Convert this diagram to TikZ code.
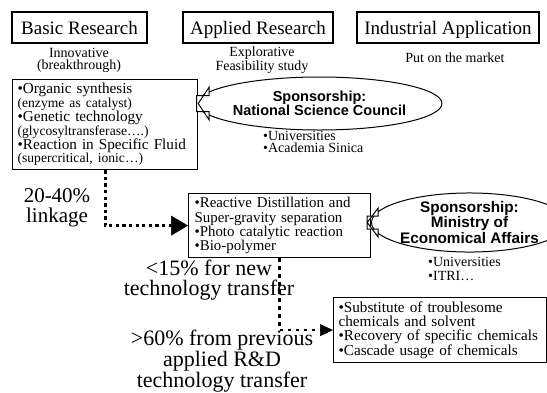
\documentclass[tikz,border=0pt]{standalone}
\usepackage{fontspec}
\setmainfont{Liberation Serif}
\newfontfamily\hsans{Liberation Sans}
\usetikzlibrary{shapes.geometric,arrows.meta,calc}
\newcommand\fsz[2]{\fontsize{#1}{#2}\selectfont}
\begin{document}
\begin{tikzpicture}[x=1pt,y=-1pt,
  stage/.style={draw,line width=1.2pt,minimum height=31pt,inner sep=0pt,
    text height=14pt,text depth=1pt,font=\fsz{19}{22}},
  topic/.style={draw,line width=1.2pt,anchor=north west,align=left,inner ysep=0pt},
  sponsor/.style={draw,ellipse,line width=1pt,inner sep=0pt,align=center},
  note/.style={align=center,inner sep=0pt},
  members/.style={anchor=west,align=left,inner sep=0pt},
  block/.style={draw,line width=1pt,fill=white,line join=miter},
  flowA/.style={line width=3pt,dash pattern=on 3.3pt off 3.3pt,
    -{Triangle[length=17pt 0 0,width=20pt 0 0,line width=0.5pt]}},
  flowB/.style={line width=2.6pt,dash pattern=on 3.5pt off 4.5pt,
    -{Triangle[length=13pt 0 0,width=12pt 0 0,line width=0.5pt]}},
]
\useasboundingbox (0,0) rectangle (547,392);

% three stages of research
\node[stage,minimum width=135pt] (basic) at (79.5,27.5) {Basic Research};
\node[stage,minimum width=150pt] (applied) at (258,27.5) {Applied Research};
\node[stage,minimum width=182pt] (industry) at (448,27.5) {Industrial Application};

\node[note,font=\fsz{14}{12.5}] (basicnote) at (79,60.5) {Innovative\\(breakthrough)};
\node[note,font=\fsz{14}{12.5}] (appliednote) at (262,60) {Explorative\\Feasibility study};
\node[note,font=\fsz{14}{12.5}] (industrynote) at (455,58) {Put on the market};

% basic research topics and their sponsor
\node[topic,minimum width=185pt,minimum height=90pt,inner xsep=5pt,text width=175pt,
  font=\fsz{15.2}{13.8}] (basicbox) at (12,79)
  {\mbox{•Organic synthesis}\\\mbox{\fsz{13.6}{13.8}(enzyme as catalyst)}\\
   \mbox{•Genetic technology}\\\mbox{\fsz{13.6}{13.8}(glycosyltransferase….)}\\
   \mbox{•Reaction in Specific Fluid}\\\mbox{\fsz{13.6}{13.8}(supercritical, ionic…)}};

\node[sponsor,minimum width=195pt,minimum height=53pt,
  font=\hsans\bfseries\fsz{14.5}{13.5}] (nsc) at (319.5,103.5)
  {Sponsorship:\\National Science Council};
\node[members,font=\fsz{14}{12.5}] (nscmembers) at (263,142) {•Universities\\•Academia Sinica};

\coordinate (nsctip) at (basicbox.east |- nsc.west);
\draw[block] (nsctip) -- ++(11,-16.5) -- ++(0,8.5) -- ($(nsc.west)+(0,-8)$)
  -- ($(nsc.west)+(0,8)$) -- ($(nsctip)+(11,8)$) -- ($(nsctip)+(11,16.5)$) -- cycle;

% applied research topics and their sponsor
\node[topic,minimum width=182pt,minimum height=64pt,inner xsep=6pt,text width=170pt,
  font=\fsz{14.9}{14.3}] (appliedbox) at (188,193)
  {\mbox{•Reactive Distillation and}\\\mbox{Super-gravity separation}\\
   \mbox{•Photo catalytic reaction}\\\mbox{•Bio-polymer}};

\node[sponsor,minimum width=154pt,minimum height=59pt,
  font=\hsans\bfseries\fsz{15.3}{13.5}] (moea) at (469.5,222.5)
  {Sponsorship:\\Ministry of\\Economical Affairs};
\node[members,font=\fsz{14}{13.5}] (moeamembers) at (428,269) {•Universities\\•ITRI…};

\coordinate (moeatip) at ($(appliedbox.east |- moea.west)+(-4,0)$);
\coordinate (moeaback) at ($(moea.west)+(-4,0)$);
\draw[block] (moeatip) -- ++(11,-14.5) -- ++(0,8) -- ($(moeaback)+(0,-6.5)$)
  -- ($(moeaback)+(0,6.5)$) -- ($(moeatip)+(11,6.5)$) -- ($(moeatip)+(11,14.5)$) -- cycle;

% industrial application topics
\node[topic,minimum width=213pt,minimum height=65pt,inner xsep=5pt,text width=203pt,
  font=\fsz{15.2}{13.8}] (industrybox) at (333,297)
  {\mbox{•Substitute of troublesome}\\\mbox{chemicals and solvent}\\
   \mbox{•Recovery of specific chemicals}\\\mbox{•Cascade usage of chemicals}};

% transfer shares
\node[note,font=\fsz{21}{20}] (linkshare) at (57,207.5) {20-40\%\\linkage};
\node[note,font=\fsz{22}{20}] (newshare) at (209,280) {<15\% for new\\technology transfer};
\node[note,font=\fsz{22}{18.5}] (prevshare) at (222,361.5) {>60\% from previous\\applied R\&D\\technology transfer};

\draw[flowA] (basicbox.south) |- (appliedbox.west);
\draw[flowB] (appliedbox.south) |- (industrybox.west);
\end{tikzpicture}
\end{document}
